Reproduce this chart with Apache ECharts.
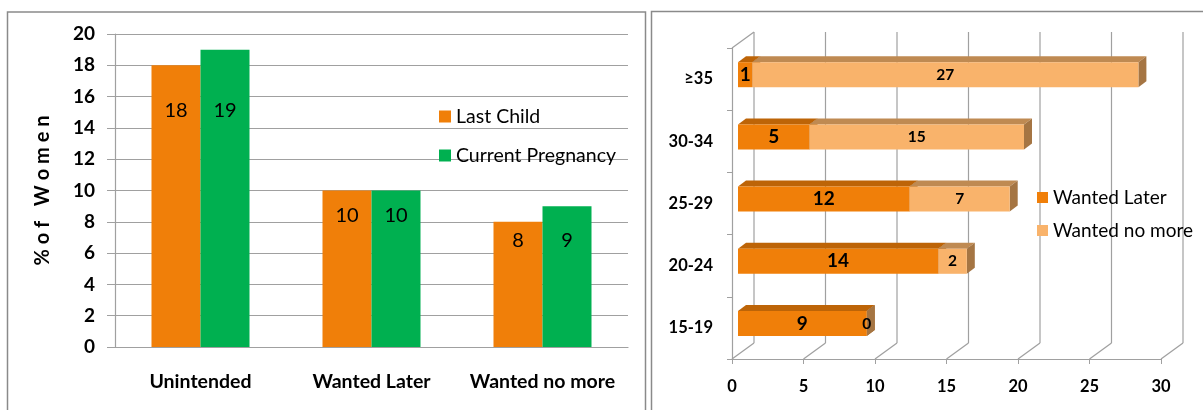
<!DOCTYPE html>
<html>
<head>
<meta charset="utf-8">
<script src="https://cdn.jsdelivr.net/npm/echarts@6/dist/echarts.min.js"></script>
<style>
  html, body { margin: 0; padding: 0; background: #fff; }
  #chart { width: 1203px; height: 410px; }
</style>
</head>
<body>
<div id="chart"></div>
<script>
// left chart: intention of last child / current pregnancy
const intentCats = ['Unintended', 'Wanted Later', 'Wanted no more']
const lastChild = [18, 10, 8]
const currentPregnancy = [19, 10, 9]
const pctMin = 0
const pctMax = 20
const pctStep = 2

// right chart: by age group
const ageGroups = ['15-19', '20-24', '25-29', '30-34', '≥35']
const wantedLater = [9, 14, 12, 5, 1]
const wantedNoMore = [0, 2, 7, 15, 27]
const countTicks = [0, 5, 10, 15, 20, 25, 30]

// layout / style
const FONT = 'Lato'
const ORANGE = '#F07F09'
const GREEN = '#00B050'
const LIGHT = '#F9B36B'
const TOP_DARK = '#BD6407'
const SIDE_DARK = '#A45A0C'
const TOP_LIGHT = '#BF8A52'
const SIDE_LIGHT = '#A57543'
const GRID_C = '#A0A0A0'
const labelLevels = [15.1, 8.4, 6.8]   // where the value labels sit on the left bars
const DEPTH_X = 22, DEPTH_Y = -16       // 3d wall depth
const BAR_DX = 8, BAR_DY = -6           // 3d bar depth
const BAR_H = 25

function leftData(values) {
  return values.map((v, i) => ({
    value: v,
    label: { position: ['50%', ((v - labelLevels[i]) / v * 100) + '%'] }
  }))
}

function faceData(k) {
  return ageGroups.map((_, i) => {
    const start = k === 0 ? 0 : wantedLater[i]
    const end = k === 0 ? wantedLater[i] : wantedLater[i] + wantedNoMore[i]
    return [i, start, end]
  })
}

function renderFaces(topColor, sideColor) {
  return function (params, api) {
    const i = api.value(0)
    const p0 = api.coord([api.value(1), i])
    const p1 = api.coord([api.value(2), i])
    const y0 = p0[1] - BAR_H / 2
    const y1 = p0[1] + BAR_H / 2
    return {
      type: 'group',
      children: [
        {
          type: 'polygon',
          shape: { points: [[p0[0], y0], [p1[0], y0], [p1[0] + BAR_DX, y0 + BAR_DY], [p0[0] + BAR_DX, y0 + BAR_DY]] },
          style: { fill: topColor }
        },
        {
          type: 'polygon',
          shape: { points: [[p1[0], y0], [p1[0] + BAR_DX, y0 + BAR_DY], [p1[0] + BAR_DX, y1 + BAR_DY], [p1[0], y1]] },
          style: { fill: sideColor }
        }
      ]
    }
  }
}

function renderFrame(params, api) {
  const cs = params.coordSys
  const v = api.value(0)
  const x = api.coord([v, 0])[0]
  const yb = cs.y + cs.height
  const lineStyle = { stroke: GRID_C, lineWidth: 1.2 }
  const children = [
    { type: 'line', shape: { x1: x, y1: yb, x2: x + DEPTH_X, y2: yb + DEPTH_Y }, style: lineStyle },
    { type: 'line', shape: { x1: x + DEPTH_X, y1: yb + DEPTH_Y, x2: x + DEPTH_X, y2: cs.y + DEPTH_Y }, style: lineStyle }
  ]
  if (v === countTicks[0]) {
    children.push({ type: 'line', shape: { x1: x, y1: cs.y, x2: x + DEPTH_X, y2: cs.y + DEPTH_Y }, style: lineStyle })
  }
  return { type: 'group', children }
}

const txt = { fontFamily: FONT, color: '#000' }

const option = {
  animation: false,
  textStyle: { fontFamily: FONT },
  graphic: [
    { type: 'rect', shape: { x: 7.5, y: 12, width: 638, height: 420 }, style: { fill: 'none', stroke: '#8A8A8A', lineWidth: 1.5 } },
    { type: 'rect', shape: { x: 651.5, y: 11.5, width: 620, height: 420 }, style: { fill: 'none', stroke: '#8A8A8A', lineWidth: 1.5 } }
  ],
  legend: [
    {
      data: ['Last Child', 'Current Pregnancy'],
      orient: 'vertical', left: 434, top: 100,
      itemWidth: 12, itemHeight: 12, itemGap: 16, icon: 'rect',
      textStyle: Object.assign({ fontSize: 19.5, lineHeight: 23 }, txt)
    },
    {
      data: ['Wanted Later', 'Wanted no more'],
      orient: 'vertical', left: 1032, top: 181,
      itemWidth: 11, itemHeight: 11, itemGap: 10, icon: 'rect',
      textStyle: Object.assign({ fontSize: 19, lineHeight: 23 }, txt)
    }
  ],
  grid: [
    { left: 115, top: 34, right: 575, bottom: 63 },
    { left: 732, top: 48, right: 42, bottom: 51 },
    { left: 738, top: 43.6, right: 36, bottom: 55.4 }
  ],
  xAxis: [
    {
      gridIndex: 0, type: 'category', data: intentCats,
      axisLine: { lineStyle: { color: GRID_C, width: 1.2 } },
      axisTick: { length: 8, lineStyle: { color: GRID_C } },
      axisLabel: Object.assign({ fontSize: 19.5, fontWeight: 'bold', margin: 25, interval: 0 }, txt)
    },
    {
      gridIndex: 1, type: 'value', min: 0, max: 30, interval: 5,
      axisLine: { show: true, lineStyle: { color: GRID_C, width: 1.2 } },
      axisTick: { show: true, length: 5, lineStyle: { color: GRID_C } },
      splitLine: { show: false },
      axisLabel: Object.assign({ fontSize: 16.5, fontWeight: 'bold', margin: 19 }, txt)
    },
    {
      gridIndex: 2, type: 'value', min: 0, max: 30, show: false, splitLine: { show: false }
    }
  ],
  yAxis: [
    {
      gridIndex: 0, type: 'value', min: pctMin, max: pctMax, interval: pctStep,
      name: '% o f   W o m e n', nameLocation: 'middle', nameGap: 62, nameRotate: 90,
      nameTextStyle: Object.assign({ fontSize: 20, fontWeight: 'bold' }, txt),
      axisLine: { show: true, lineStyle: { color: GRID_C, width: 1.2 } },
      axisTick: { show: true, length: 8, lineStyle: { color: GRID_C } },
      splitLine: { lineStyle: { color: GRID_C, width: 1.2 } },
      axisLabel: Object.assign({ fontSize: 19, fontWeight: 'bold', margin: 20 }, txt)
    },
    {
      gridIndex: 1, type: 'category', data: ageGroups,
      axisLine: { show: true, lineStyle: { color: GRID_C, width: 1.2 } },
      axisTick: { show: true, length: 5, lineStyle: { color: GRID_C } },
      axisLabel: Object.assign({ fontSize: 16.5, fontWeight: 'bold', margin: 19 }, txt)
    },
    {
      gridIndex: 2, type: 'category', data: ageGroups, show: false
    }
  ],
  series: [
    {
      name: 'Last Child', type: 'bar', xAxisIndex: 0, yAxisIndex: 0,
      barWidth: 49, barGap: '0%', itemStyle: { color: ORANGE },
      label: Object.assign({ show: true, fontSize: 20, align: 'center', verticalAlign: 'middle' }, txt),
      data: leftData(lastChild)
    },
    {
      name: 'Current Pregnancy', type: 'bar', xAxisIndex: 0, yAxisIndex: 0,
      barWidth: 49, barGap: '0%', itemStyle: { color: GREEN },
      label: Object.assign({ show: true, fontSize: 20, align: 'center', verticalAlign: 'middle' }, txt),
      data: leftData(currentPregnancy)
    },
    {
      type: 'custom', xAxisIndex: 1, yAxisIndex: 1, silent: true, z: 1,
      renderItem: renderFrame,
      data: countTicks.map(v => [v])
    },
    {
      type: 'custom', xAxisIndex: 2, yAxisIndex: 2, silent: true, z: 2,
      renderItem: renderFaces(TOP_DARK, SIDE_DARK),
      encode: { x: [1, 2], y: 0 },
      data: faceData(0)
    },
    {
      type: 'custom', xAxisIndex: 2, yAxisIndex: 2, silent: true, z: 3,
      renderItem: renderFaces(TOP_LIGHT, SIDE_LIGHT),
      encode: { x: [1, 2], y: 0 },
      data: faceData(1)
    },
    {
      name: 'Wanted Later', type: 'bar', xAxisIndex: 2, yAxisIndex: 2, stack: 'age', z: 4,
      barWidth: BAR_H, itemStyle: { color: ORANGE },
      label: Object.assign({ show: true, position: 'inside', fontSize: 19, fontWeight: 'bold' }, txt),
      data: wantedLater
    },
    {
      name: 'Wanted no more', type: 'bar', xAxisIndex: 2, yAxisIndex: 2, stack: 'age', z: 4,
      barWidth: BAR_H, itemStyle: { color: LIGHT },
      label: Object.assign({ show: true, position: 'inside', fontSize: 15.5, fontWeight: 'bold' }, txt),
      data: wantedNoMore
    }
  ]
}

const myChart = echarts.init(document.getElementById('chart'))
myChart.setOption(option)
window.onresize = myChart.resize
</script>
</body>
</html>
